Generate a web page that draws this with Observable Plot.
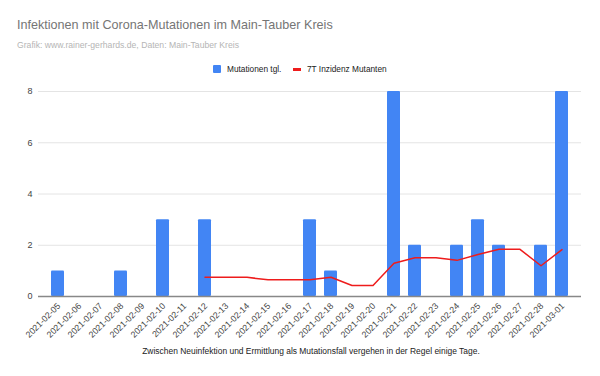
<!DOCTYPE html>
<html><head><meta charset="utf-8">
<script src="https://cdn.jsdelivr.net/npm/d3@7"></script>
<script src="https://cdn.jsdelivr.net/npm/@observablehq/plot@0.6"></script>
<style>
body{margin:0;background:#fff;font-family:"Liberation Sans",Arial,sans-serif;}
#wrap{position:relative;width:600px;height:376px;overflow:hidden;}
.abs{position:absolute;white-space:nowrap;}
#title{left:17px;top:18px;font-size:12.6px;color:#757575;}
#sub{left:17px;top:40px;font-size:8.65px;color:#b5b5b5;}
#leg{left:0;top:63px;width:600px;font-size:8.3px;color:#222;}
#cap{left:0;top:346px;width:600px;text-align:center;font-size:8.45px;color:#222;}
#cap span{position:relative;left:11px;}
#chart{left:0;top:80px;}
</style></head>
<body><div id="wrap">
<div id="title" class="abs">Infektionen mit Corona-Mutationen im Main-Tauber Kreis</div>
<div id="sub" class="abs">Grafik: www.rainer-gerhards.de, Daten: Main-Tauber Kreis</div>
<div id="leg" class="abs">
  <span class="abs" style="left:213px;top:2px;width:8px;height:8px;background:#4285f4;border-radius:1px"></span>
  <span class="abs" style="left:227px;top:1px">Mutationen tgl.</span>
  <span class="abs" style="left:293px;top:5px;width:8px;height:2.5px;background:#ee1c1c"></span>
  <span class="abs" style="left:307px;top:1px">7T Inzidenz Mutanten</span>
</div>
<div id="chart" class="abs"></div>
<div id="cap" class="abs"><span>Zwischen Neuinfektion und Ermittlung als Mutationsfall vergehen in der Regel einige Tage.</span></div>
</div>
<script>
const dates = ["2021-02-05","2021-02-06","2021-02-07","2021-02-08","2021-02-09","2021-02-10","2021-02-11","2021-02-12","2021-02-13","2021-02-14","2021-02-15","2021-02-16","2021-02-17","2021-02-18","2021-02-19","2021-02-20","2021-02-21","2021-02-22","2021-02-23","2021-02-24","2021-02-25","2021-02-26","2021-02-27","2021-02-28","2021-03-01"];
const mutations = [1,0,0,1,0,3,0,3,0,0,0,0,3,1,0,0,8,2,0,2,3,2,0,2,8];
const incidence = [null,null,null,null,null,null,null,0.75,0.75,0.75,0.65,0.65,0.65,0.75,0.43,0.43,1.3,1.51,1.51,1.41,1.64,1.84,1.84,1.2,1.83];
const yTicks = [0,2,4,6,8];

const rows = dates.map((d,i)=>({date:d, m:mutations[i], inc:incidence[i]}));
const barRows = rows.filter(r=>r.m>0);
const lineRows = rows.filter(r=>r.inc!=null);

const chart = Plot.plot({
  width:600, height:262,
  marginLeft:38, marginRight:19, marginTop:11, marginBottom:46,
  style:{fontFamily:"'Liberation Sans',Arial,sans-serif", fontSize:"8.8px", color:"#444", background:"transparent"},
  x:{type:"band", domain:dates, paddingInner:0.4, paddingOuter:0.2, insetLeft:2.8, insetRight:3.6, label:null},
  y:{domain:[0,8], ticks:yTicks, label:null},
  marks:[
    Plot.ruleY(yTicks.filter(t=>t>0), {stroke:"#e4e4e4", strokeWidth:1}),
    Plot.barY(barRows, {x:"date", y:"m", fill:"#4285f4", rx:1}),
    Plot.ruleY([0], {stroke:"#888", strokeWidth:1.3}),
    Plot.line(lineRows, {x:"date", y:"inc", stroke:"#ee1c1c", strokeWidth:1.5}),
    Plot.axisY({ticks:yTicks, tickSize:0, tickPadding:6, label:null, fontSize:9}),
    Plot.axisX({tickSize:0, tickPadding:4, tickRotate:-45, label:null, fontSize:8.8, dy:4, dx:1})
  ]
});
document.getElementById("chart").appendChild(chart);
</script>
</body></html>
